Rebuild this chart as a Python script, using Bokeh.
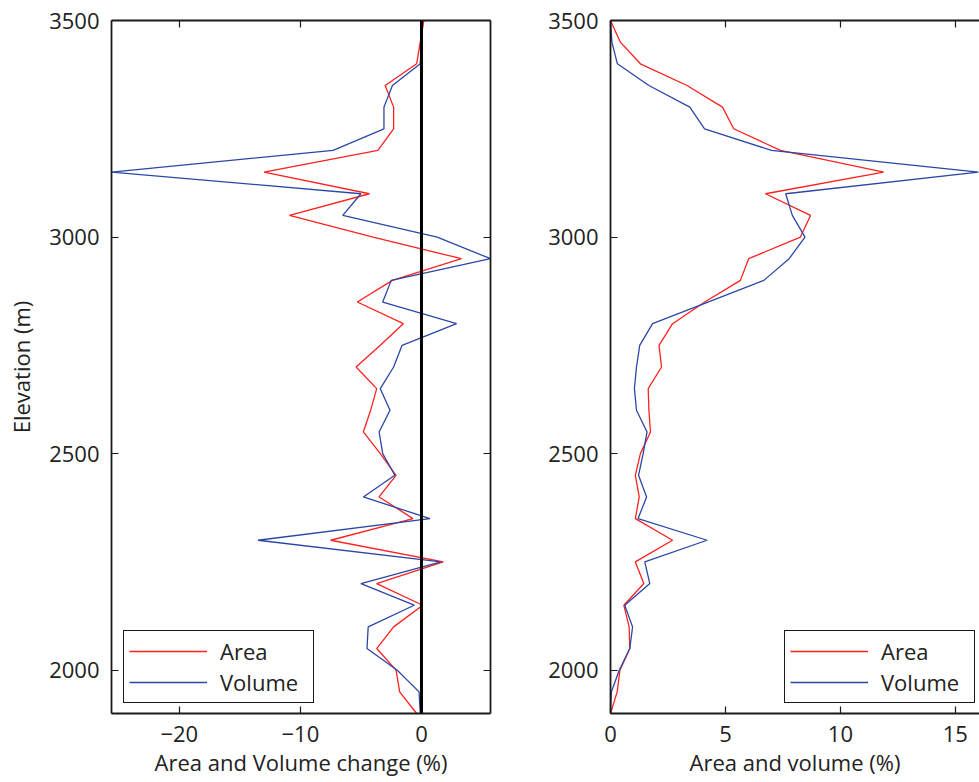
from bokeh.plotting import figure
from bokeh.layouts import row
from bokeh.models import (Range1d, LinearAxis, FixedTicker, Legend, LegendItem, Span)
from bokeh.embed import file_html
from bokeh.resources import INLINE

# Elevation bands (m)
elevation = [3500, 3450, 3400, 3350, 3300, 3250, 3200, 3150, 3100, 3050, 3000,
             2950, 2900, 2850, 2800, 2750, 2700, 2650, 2600, 2550, 2500, 2450,
             2400, 2350, 2300, 2250, 2200, 2150, 2100, 2050, 2000, 1950, 1900]

# Left panel: change (%)
area_change = [0.2, -0.1, -0.4, -3.0, -2.3, -2.3, -3.6, -13.0, -4.3, -10.9, -4.0,
               3.3, -2.4, -5.3, -1.5, -3.4, -5.4, -3.7, -4.2, -4.8, -3.4, -2.1,
               -3.5, -0.7, -7.5, 1.8, -3.7, 0.1, -2.3, -3.7, -2.1, -1.8, -0.4]
volume_change = [0.1, 0.0, -0.1, -2.4, -3.1, -3.1, -7.3, -25.6, -5.0, -6.5, 1.3,
                 5.7, -2.5, -3.2, 2.9, -1.6, -2.3, -3.4, -2.6, -3.5, -3.2, -2.2,
                 -4.8, 0.7, -13.5, 1.6, -5.0, -0.6, -4.4, -4.5, -2.0, -0.2, -0.1]

# Right panel: share (%)
area_pct = [0.0, 0.43, 1.3, 3.33, 4.87, 5.36, 7.39, 11.88, 6.74, 8.7, 8.26,
            6.01, 5.65, 4.1, 2.7, 2.11, 2.22, 1.64, 1.67, 1.74, 1.3, 1.08,
            1.25, 1.08, 2.7, 1.08, 1.45, 0.58, 0.81, 0.84, 0.41, 0.29, 0.0]
volume_pct = [0.0, 0.06, 0.3, 1.67, 3.45, 4.09, 7.0, 16.0, 7.62, 7.91, 8.46,
              7.77, 6.67, 4.24, 1.83, 1.27, 1.13, 1.04, 1.13, 1.59, 1.42, 1.22,
              1.57, 1.2, 4.2, 1.49, 1.71, 0.62, 0.96, 0.84, 0.38, 0.04, 0.0]

y_ticks = [2000, 2500, 3000, 3500]
left_x_ticks = [-20, -10, 0]
right_x_ticks = [0, 5, 10, 15]

FONT = "Open Sans"
TXT = "#222222"
RED = "#ff2020"
BLUE = "#2b47a6"
AX = "#1a1a1a"


def style_axis(ax, ticks, show_labels=True):
    ax.ticker = FixedTicker(ticks=ticks)
    ax.axis_line_color = AX
    ax.axis_line_width = 1.8
    ax.major_tick_line_color = AX
    ax.major_tick_line_width = 1.2
    ax.major_tick_in = 7
    ax.major_tick_out = 0
    ax.minor_tick_line_color = None
    ax.major_label_text_font = FONT
    ax.major_label_text_color = TXT
    ax.axis_label_text_font = FONT
    ax.axis_label_text_color = TXT
    ax.axis_label_text_font_style = "normal"
    ax.axis_label_text_font_size = "22px"
    ax.major_label_text_font_size = "22px"
    if show_labels:
        ax.major_label_standoff = 12
    else:
        ax.major_label_overrides = {t: "" for t in ticks}
        ax.major_label_standoff = 0


def make_fig(xr, fw, bl, br, xticks, xlabel, ylabel, right_axis):
    p = figure(x_range=xr, y_range=Range1d(1900, 3500),
               frame_width=fw, frame_height=693,
               min_border_left=bl, min_border_right=br,
               min_border_top=20, min_border_bottom=69,
               output_backend="svg", toolbar_location=None,
               x_axis_location=None, y_axis_location=None)
    p.grid.visible = False
    p.outline_line_color = None
    p.background_fill_color = "white"
    p.border_fill_color = "white"

    bottom = LinearAxis(axis_label=xlabel)
    style_axis(bottom, xticks)
    bottom.axis_label_standoff = 2
    p.add_layout(bottom, "below")

    top = LinearAxis()
    style_axis(top, xticks, show_labels=False)
    p.add_layout(top, "above")

    left = LinearAxis(axis_label=ylabel)
    style_axis(left, y_ticks)
    left.axis_label_standoff = 10
    p.add_layout(left, "left")

    if right_axis:
        r = LinearAxis()
        style_axis(r, y_ticks, show_labels=False)
        p.add_layout(r, "right")
    return bottom, p


def add_series(p, xa, xv, loc):
    ra = p.line(xa, elevation, line_color=RED, line_width=1.3)
    rv = p.line(xv, elevation, line_color=BLUE, line_width=1.3)
    leg = Legend(items=[LegendItem(label="Area", renderers=[ra]),
                        LegendItem(label="Volume", renderers=[rv])],
                 location=loc)
    leg.label_text_font = FONT
    leg.label_text_font_size = "22px"
    leg.label_text_color = TXT
    leg.glyph_width = 78
    leg.glyph_height = 26
    leg.label_height = 26
    leg.label_width = 88
    leg.label_standoff = 13
    leg.spacing = 1
    leg.padding = 5
    leg.margin = 0
    leg.border_line_color = AX
    leg.border_line_width = 1.6
    leg.border_line_alpha = 1.0
    leg.background_fill_color = "white"
    leg.background_fill_alpha = 1.0
    p.add_layout(leg, "center")


# Left panel
xr1 = Range1d(min(volume_change), max(volume_change))
b1, p1 = make_fig(xr1, 379, 111, 10, left_x_ticks,
                  "Area and Volume change (%)", "Elevation (m)", True)
b1.major_label_overrides = {-20: "\u221220", -10: "\u221210"}
add_series(p1, area_change, volume_change, (12, 10))
p1.add_layout(Span(location=0, dimension="height", line_color="black",
                   line_width=3))

# Right panel
xr2 = Range1d(0, 16.05)
b2, p2 = make_fig(xr2, 369, 110, 0, right_x_ticks,
                  "Area and volume (%)", None, False)
add_series(p2, area_pct, volume_pct, (174, 10))

layout = row(p1, p2)
open("out.html", "w").write(file_html(layout, INLINE))
